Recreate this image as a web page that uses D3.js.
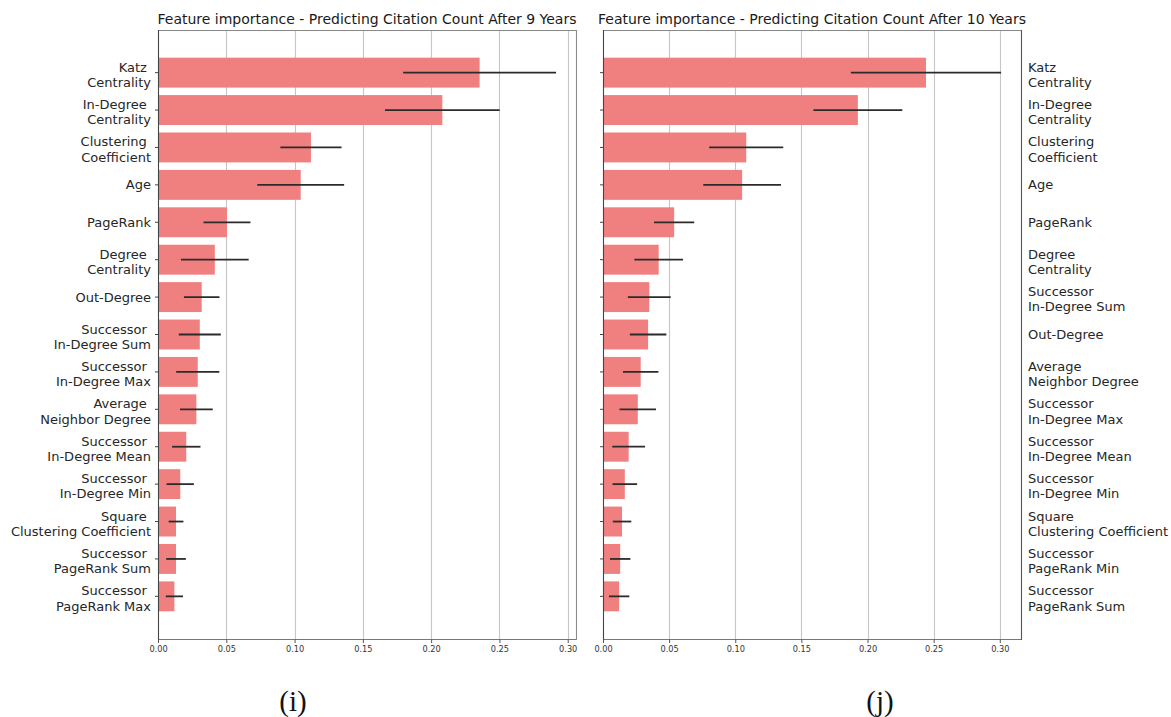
<!DOCTYPE html>
<html>
<head>
<meta charset="utf-8">
<script src="https://cdn.jsdelivr.net/npm/d3@7"></script>
<style>
  body { margin: 0; background: #fff; }
  svg { display: block; }
</style>
</head>
<body>
<svg id="chart" width="1171" height="717"></svg>
<script>
// Feature importances (mean decrease in impurity) with their standard deviations
const featuresY9 = [
  "Katz \nCentrality", "In-Degree \nCentrality", "Clustering \nCoefficient", "Age", "PageRank",
  "Degree \nCentrality", "Out-Degree", "Successor \nIn-Degree Sum", "Successor \nIn-Degree Max",
  "Average \nNeighbor Degree", "Successor \nIn-Degree Mean", "Successor \nIn-Degree Min",
  "Square \nClustering Coefficient", "Successor \nPageRank Sum", "Successor \nPageRank Max"
];
const importanceY9 = [0.2355, 0.2082, 0.1120, 0.1045, 0.0505, 0.0416, 0.0320, 0.0306, 0.0291,
  0.0281, 0.0207, 0.0163, 0.0132, 0.0132, 0.0120];
const stdY9 = [0.0560, 0.0420, 0.0224, 0.0318, 0.0172, 0.0248, 0.0130, 0.0154, 0.0158,
  0.0120, 0.0104, 0.0100, 0.0054, 0.0072, 0.0063];

const featuresY10 = [
  "Katz \nCentrality", "In-Degree \nCentrality", "Clustering \nCoefficient", "Age", "PageRank",
  "Degree \nCentrality", "Successor \nIn-Degree Sum", "Out-Degree", "Average \nNeighbor Degree",
  "Successor \nIn-Degree Max", "Successor \nIn-Degree Mean", "Successor \nIn-Degree Min",
  "Square \nClustering Coefficient", "Successor \nPageRank Min", "Successor \nPageRank Sum"
];
const importanceY10 = [0.2442, 0.1927, 0.1083, 0.1052, 0.0538, 0.0421, 0.0350, 0.0341, 0.0285,
  0.0263, 0.0194, 0.0165, 0.0144, 0.0130, 0.0122];
const stdY10 = [0.0568, 0.0336, 0.0280, 0.0294, 0.0152, 0.0184, 0.0162, 0.0138, 0.0134,
  0.0138, 0.0124, 0.0093, 0.0070, 0.0077, 0.0077];

const xTickValues = [0, 0.05, 0.10, 0.15, 0.20, 0.25, 0.30];
const panelTitles = [
  "Feature importance - Predicting Citation Count After 9 Years",
  "Feature importance - Predicting Citation Count After 10 Years"
];
const captions = ["(i)", "(j)"];

const svg = d3.select("#chart");
const SANS = "'DejaVu Sans', sans-serif";

function drawPanel(p) {
  const { left, right, top, bottom, features, values, errors, title, labelSide, caption, captionX } = p;

  // x limit follows the widest error-bar end plus a 5% margin
  const xMax = 1.05 * d3.max(values, (v, i) => v + errors[i]);
  const x = d3.scaleLinear().domain([0, xMax]).range([left, right]);
  const y = d3.scaleBand().domain(features).range([top, bottom])
    .paddingInner(0.2).paddingOuter(0.74);
  const yc = d => y(d) + y.bandwidth() / 2;

  const g = svg.append("g");

  // vertical grid lines
  g.append("g").selectAll("line").data(xTickValues.filter(t => t > 0)).join("line")
    .attr("x1", d => Math.round(x(d)) + 0.5).attr("x2", d => Math.round(x(d)) + 0.5)
    .attr("y1", top).attr("y2", bottom)
    .attr("stroke", "#c6c6c6").attr("stroke-width", 1.1);

  // bars
  g.append("g").selectAll("rect").data(features).join("rect")
    .attr("x", x(0))
    .attr("y", d => y(d))
    .attr("width", (d, i) => x(values[i]) - x(0))
    .attr("height", y.bandwidth())
    .attr("fill", "#f08080");

  // error bars
  g.append("g").selectAll("line").data(features).join("line")
    .attr("x1", (d, i) => x(values[i] - errors[i]))
    .attr("x2", (d, i) => x(values[i] + errors[i]))
    .attr("y1", yc).attr("y2", yc)
    .attr("stroke", "#2b2b2b").attr("stroke-width", 1.8);

  // frame
  const frame = g.append("g").attr("fill", "none");
  frame.append("line").attr("x1", left).attr("x2", right).attr("y1", top + 0.5).attr("y2", top + 0.5)
    .attr("stroke", "#8a8a8a").attr("stroke-width", 1.1);
  frame.append("line").attr("x1", left).attr("x2", right).attr("y1", bottom + 0.5).attr("y2", bottom + 0.5)
    .attr("stroke", "#777").attr("stroke-width", 1.1);
  frame.append("line").attr("x1", left + 0.5).attr("x2", left + 0.5).attr("y1", top).attr("y2", bottom + 1)
    .attr("stroke", "#444").attr("stroke-width", 1.1);
  frame.append("line").attr("x1", right + 0.5).attr("x2", right + 0.5).attr("y1", top).attr("y2", bottom + 1)
    .attr("stroke", labelSide === "right" ? "#555" : "#8a8a8a").attr("stroke-width", 1.1);

  // x axis
  const xAxis = d3.axisBottom(x).tickValues(xTickValues).tickFormat(d3.format(".2f"))
    .tickSizeInner(3.5).tickSizeOuter(0).tickPadding(3);
  const xg = g.append("g").attr("transform", `translate(0,${bottom + 0.5})`).call(xAxis);
  xg.select(".domain").remove();
  xg.selectAll(".tick line").attr("stroke", "#555");
  xg.selectAll(".tick text").attr("font-family", SANS).attr("font-size", 8.2).attr("fill", "#333");

  // y axis ticks on the left spine
  const yAxis = d3.axisLeft(y).tickSize(3.5).tickFormat("");
  const yg = g.append("g").attr("transform", `translate(${left + 0.5},0)`).call(yAxis);
  yg.select(".domain").remove();
  yg.selectAll(".tick line").attr("stroke", "#444");

  // category labels (possibly two lines)
  const labelX = labelSide === "left" ? left - 7 : right + 7;
  const labels = g.append("g")
    .attr("font-family", SANS).attr("font-size", 13).attr("fill", "#262626")
    .attr("text-anchor", labelSide === "left" ? "end" : "start")
    .style("white-space", "pre");
  features.forEach(f => {
    const lines = f.split("\n");
    const c = yc(f);
    const t = labels.append("text");
    if (lines.length === 1) {
      t.append("tspan").attr("x", labelX).attr("y", c + 4.5).text(lines[0]);
    } else {
      lines.forEach((ln, k) => {
        t.append("tspan").attr("x", labelX).attr("y", c - 1 + k * 15.3).text(ln);
      });
    }
  });

  // title
  g.append("text")
    .attr("x", (left + right) / 2).attr("y", top - 6)
    .attr("text-anchor", "middle")
    .attr("font-family", SANS).attr("font-size", 14).attr("fill", "#1a1a1a")
    .text(title);

  // sub-figure caption
  g.append("text")
    .attr("x", captionX).attr("y", 711)
    .attr("text-anchor", "middle")
    .attr("font-family", "'Liberation Serif', 'DejaVu Serif', serif").attr("font-size", 29)
    .attr("fill", "#111")
    .text(caption);
}

drawPanel({
  left: 158, right: 576, top: 30, bottom: 639,
  features: featuresY9, values: importanceY9, errors: stdY9,
  title: panelTitles[0], labelSide: "left", caption: captions[0], captionX: 293
});
drawPanel({
  left: 603, right: 1021, top: 30, bottom: 639,
  features: featuresY10, values: importanceY10, errors: stdY10,
  title: panelTitles[1], labelSide: "right", caption: captions[1], captionX: 880
});
</script>
</body>
</html>
